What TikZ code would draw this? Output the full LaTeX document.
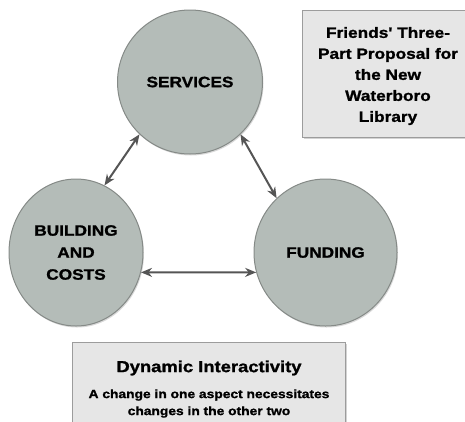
\documentclass[tikz,border=0pt]{standalone}
\usepackage{fontspec}
\newfontfamily\heavy{Liberation Sans Bold}[FakeStretch=1.15, FakeBold=1.2]
\usetikzlibrary{shapes.geometric,arrows.meta,shadows}
\definecolor{circfill}{HTML}{B4BCB8}
\definecolor{circline}{HTML}{858A87}
\definecolor{boxfill}{HTML}{E6E6E6}
\definecolor{boxline}{HTML}{9C9C9C}
\definecolor{arrowcol}{HTML}{555555}
\tikzset{
  topic/.style={ellipse, draw=circline, line width=1pt, fill=circfill, inner sep=0pt,
    align=center, font=\fontsize{15}{22}\selectfont\heavy,
    drop shadow={opacity=0.3, shadow xshift=1pt, shadow yshift=-1.5pt}},
  infobox/.style={draw=boxline, line width=0.8pt, fill=boxfill,
    drop shadow={opacity=0.35, shadow xshift=2pt, shadow yshift=-2pt}},
  link/.style={draw=arrowcol, line width=2pt,
    {Stealth[length=11pt,width=9pt]}-{Stealth[length=11pt,width=9pt]}},
  boxtext/.style={align=center, inner sep=0pt}
}
\begin{document}
\begin{tikzpicture}[x=1pt,y=-1pt]
\useasboundingbox (0,0) rectangle (465,421);
% boxes
\path[infobox] (302,10) rectangle (470,137);
\node[boxtext, font=\fontsize{15}{21}\selectfont\heavy] (title) at (388,76)
  {Friends' Three-\\Part Proposal for\\the New\\Waterboro\\Library};
\path[infobox] (72,342) rectangle (345,430);
\node[boxtext, font=\fontsize{16}{20}\selectfont\heavy] (dyn) at (209,368) {Dynamic Interactivity};
\node[boxtext, font=\fontsize{12}{17}\selectfont\heavy] (dyntext) at (209,403.5)
  {A change in one aspect necessitates\\changes in the other two};
% circles
\node[topic, minimum width=145pt, minimum height=144pt] (serv) at (190,82) {SERVICES};
\node[topic, minimum width=134pt, minimum height=147pt] (build) at (76,252.5) {BUILDING\\AND\\COSTS};
\node[topic, minimum width=143pt, minimum height=147pt] (fund) at (325.5,252.5) {FUNDING};
% connectors
\draw[link] (serv.226.6) -- (build.67);
\draw[link] (serv.314.5) -- (fund.132.8);
\draw[link] (build.-17) -- (fund.196.7);
\end{tikzpicture}
\end{document}
